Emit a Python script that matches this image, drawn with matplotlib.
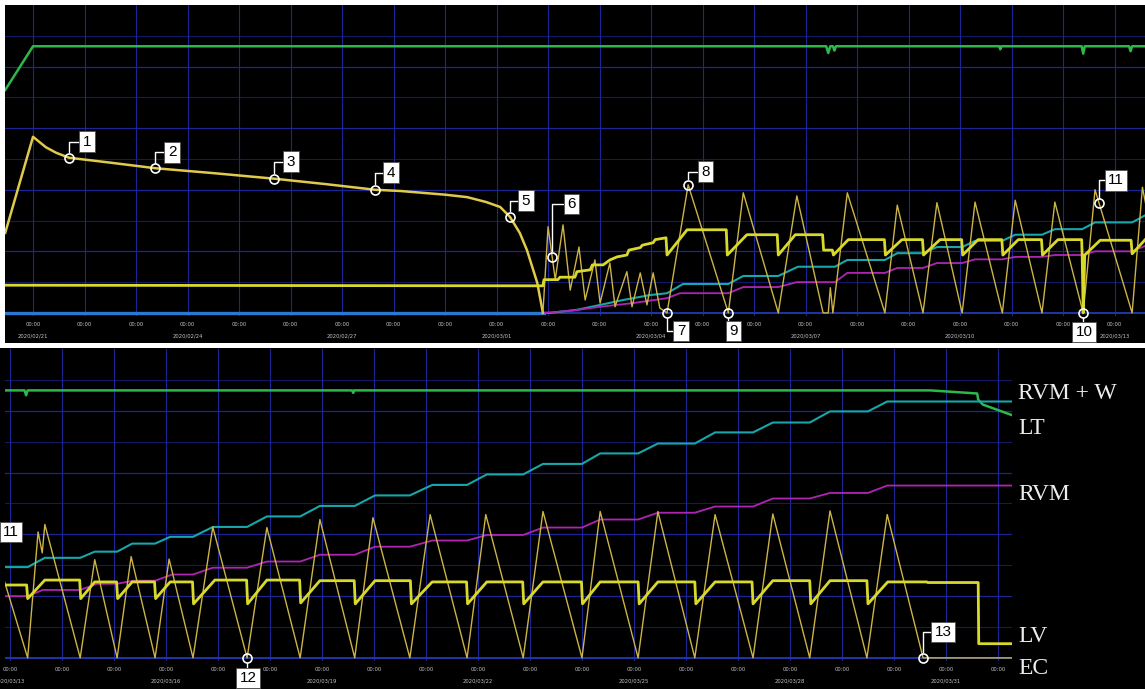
import numpy as np
import matplotlib
matplotlib.use("Agg")
import matplotlib.pyplot as plt
from matplotlib.patches import Rectangle

# Time axis: days since 2020/02/21 00:00; values in chart units (0-5)
green_days = [-0.54, 0.0, 15.40, 15.44, 15.48, 15.53, 15.56, 15.59, 18.76, 18.78, 18.80,
              20.36, 20.39, 20.42, 21.28, 21.31, 21.34, 27.58, 27.60, 27.62, 38.70,
              39.60, 39.62, 39.71, 40.30]
green_vals = [3.62, 4.33, 4.33, 4.22, 4.33, 4.33, 4.26, 4.33, 4.33, 4.28, 4.33,
              4.33, 4.21, 4.33, 4.33, 4.25, 4.33, 4.33, 4.29, 4.33, 4.33,
              4.28, 4.18, 4.10, 3.92]

ec_days = [-0.54, 0.0, 0.25, 0.45, 0.70, 1.5, 2.37, 3.5, 4.68, 5.7, 6.64, 7.13, 8.0, 8.43,
           8.8, 9.07, 9.26, 9.45, 9.59, 9.79, 9.90,
           10.0, 10.14, 10.29, 10.43, 10.60, 10.72, 10.91, 11.01, 11.20, 11.30, 11.53, 11.63,
           11.79, 11.92, 12.04, 12.17, 12.31,
           12.72, 13.50, 13.79, 14.47, 14.83, 15.34, 15.44, 15.48, 15.53, 15.81, 16.54, 16.78,
           17.28, 17.55, 18.04, 18.29, 18.82, 19.07, 19.59, 19.84, 20.39, 20.62, 21.34,
           21.54, 21.62, 21.67, 22.35, 22.63, 23.06, 23.33, 23.79, 24.06, 24.52, 24.90, 25.56,
           25.94, 26.58, 26.96, 27.63, 27.98, 28.69, 29.08, 29.79, 30.15, 30.87, 31.25, 32.0,
           32.35, 33.08, 33.46, 34.17, 34.56, 35.29, 35.67, 36.38, 36.77, 37.48, 37.87, 38.56,
           40.3]
ec_vals = [1.30, 2.86, 2.69, 2.60, 2.52, 2.44, 2.35, 2.27, 2.18, 2.09, 2.00, 1.98, 1.92, 1.88,
           1.80, 1.72, 1.56, 1.30, 1.02, 0.49, 0.0,
           1.40, 0.54, 1.43, 0.37, 1.07, 0.21, 0.86, 0.16, 0.81, 0.10, 0.67, 0.10,
           0.65, 0.13, 0.65, 0.08, 0.0,
           2.08, 0.0, 1.95, 0.0, 1.90, 0.0, 0.0, 0.41, 0.0, 1.95, 0.0, 1.75,
           0.0, 1.79, 0.0, 1.80, 0.0, 1.83, 0.0, 1.80, 0.0, 2.00, 0.0,
           2.04, 1.70, 2.16, 0.0, 1.59, 0.0, 1.64, 0.0, 1.60, 0.0, 2.12, 0.0,
           2.11, 0.0, 2.24, 0.0, 2.27, 0.0, 2.32, 0.0, 2.32, 0.0, 2.37, 0.0,
           2.37, 0.0, 2.37, 0.0, 2.32, 0.0, 2.33, 0.0, 2.38, 0.0, 2.32, 0.0,
           0.0]

lv_days = [-0.54, 9.90, 9.92, 10.19, 10.23, 10.52, 10.56, 10.82, 10.86, 11.07, 11.20, 11.34,
           11.53, 11.57, 11.79, 11.83, 12.04, 12.08, 12.29, 12.31, 12.70, 13.46, 13.48, 13.86,
           14.45, 14.47, 14.80, 15.33, 15.35, 15.52, 15.54, 15.83, 16.53, 16.55, 16.87, 17.27,
           17.29, 17.61, 18.03, 18.05, 18.35, 18.81, 18.83, 19.13, 19.58, 19.60, 19.90, 20.36,
           20.37, 20.39, 20.42, 20.72, 21.32, 21.34, 21.67, 22.34, 22.36, 22.63, 23.05, 23.07,
           23.35, 23.78, 23.80, 24.08, 24.51, 24.53, 24.94, 25.55, 25.57, 25.94, 26.57, 26.59,
           26.96, 27.62, 27.64, 28.02, 28.70, 28.72, 29.12, 29.78, 29.80, 30.17, 30.86, 30.88,
           31.25, 31.99, 32.01, 32.35, 33.08, 33.10, 33.46, 34.17, 34.19, 34.56, 35.27, 35.29,
           35.67, 36.38, 36.40, 36.77, 37.48, 37.50, 37.88, 38.63, 38.65, 39.62, 39.63, 40.3]
lv_vals = [0.45, 0.44, 0.54, 0.54, 0.58, 0.58, 0.67, 0.70, 0.78, 0.78, 0.86, 0.91,
           0.94, 1.02, 1.06, 1.10, 1.14, 1.19, 1.22, 0.94, 1.35, 1.35, 0.94, 1.27,
           1.27, 0.94, 1.27, 1.27, 1.02, 1.02, 0.94, 1.19, 1.19, 0.94, 1.19, 1.19,
           0.94, 1.19, 1.19, 0.94, 1.19, 1.19, 0.94, 1.19, 1.19, 0.94, 1.19, 1.19,
           0.94, 0.0, 0.94, 1.18, 1.18, 0.96, 1.26, 1.26, 0.96, 1.23, 1.23, 0.96,
           1.23, 1.23, 0.96, 1.23, 1.23, 0.875, 1.26, 1.26, 0.875, 1.26, 1.26, 0.89,
           1.25, 1.25, 0.875, 1.25, 1.25, 0.875, 1.23, 1.23, 0.875, 1.23, 1.23, 0.875,
           1.23, 1.23, 0.875, 1.23, 1.23, 0.875, 1.23, 1.23, 0.875, 1.23, 1.23, 0.875,
           1.25, 1.25, 0.875, 1.25, 1.25, 0.875, 1.23, 1.23, 1.22, 1.22, 0.23, 0.23]

lt_days = [9.90, 10.04, 10.56, 11.01, 11.46, 11.98, 12.31, 12.62, 13.50, 13.79, 14.47, 14.85,
           15.57, 15.81, 16.54, 16.78, 17.28, 17.55, 18.04, 18.29, 18.82, 19.07, 19.59, 19.84,
           20.37, 20.62, 21.34, 21.67, 22.35, 22.63, 23.06, 23.35, 23.79, 24.08, 24.52, 24.90,
           25.56, 25.94, 26.58, 26.96, 27.63, 28.02, 28.69, 29.12, 29.79, 30.17, 30.87, 31.25,
           32.0, 32.35, 33.08, 33.46, 34.17, 34.56, 35.29, 35.67, 36.38, 36.77, 37.50, 37.87,
           40.3]
lt_vals = [0.0, 0.0, 0.05, 0.13, 0.21, 0.29, 0.32, 0.47, 0.47, 0.60, 0.60, 0.75,
           0.75, 0.86, 0.86, 0.97, 0.97, 1.07, 1.07, 1.17, 1.17, 1.27, 1.27, 1.36,
           1.36, 1.47, 1.47, 1.62, 1.62, 1.72, 1.72, 1.85, 1.85, 1.96, 1.96, 2.12,
           2.12, 2.29, 2.29, 2.46, 2.46, 2.63, 2.63, 2.80, 2.80, 2.97, 2.97, 3.14,
           3.14, 3.31, 3.31, 3.47, 3.47, 3.65, 3.65, 3.81, 3.81, 3.99, 3.99, 4.15,
           4.15]

rvm_days = [9.90, 10.5, 11.01, 11.65, 12.31, 12.56, 13.50, 13.79, 14.47, 14.83, 15.57, 15.81,
            16.54, 16.78, 17.28, 17.55, 18.04, 18.29, 18.82, 19.07, 19.59, 19.84, 20.37, 20.62,
            21.34, 21.63, 22.35, 22.67, 23.06, 23.37, 23.79, 24.12, 24.52, 24.90, 25.56, 25.94,
            26.58, 26.96, 27.63, 28.02, 28.69, 29.12, 29.79, 30.17, 30.87, 31.25, 32.0, 32.35,
            33.08, 33.46, 34.17, 34.56, 35.29, 35.67, 36.38, 36.77, 37.50, 37.87, 40.3]
rvm_vals = [0.0, 0.04, 0.10, 0.16, 0.24, 0.32, 0.32, 0.42, 0.42, 0.50, 0.50, 0.65,
            0.65, 0.73, 0.73, 0.81, 0.81, 0.87, 0.87, 0.91, 0.91, 0.94, 0.94, 1.00,
            1.00, 1.10, 1.10, 1.20, 1.20, 1.25, 1.25, 1.35, 1.35, 1.46, 1.46, 1.56,
            1.56, 1.67, 1.67, 1.80, 1.80, 1.90, 1.90, 1.99, 1.99, 2.11, 2.11, 2.24,
            2.24, 2.35, 2.35, 2.45, 2.45, 2.58, 2.58, 2.67, 2.67, 2.79, 2.79]

# flat zero line before the LT / RVM traces start
zero_days = [-0.6, 9.92]
zero_vals = [0.0, 0.0]

# numbered event markers on the EC trace: label, day, box offset (px)
note_labels = ["1", "2", "3", "4", "5", "6", "7", "8", "9", "10", "11", "12", "13"]
note_days = [0.70, 2.37, 4.68, 6.64, 9.26, 10.08, 12.31, 12.72, 13.50, 20.39, 20.70, 25.56, 38.56]
note_dx = [18, 17, 17, 16, 16, 19, 14, 17, 5, 1, 17, 1, 20]
note_dy = [16, 16, 17, 17, 16, 53, -18, 13, -18, -19, 23, -20, 26]
note_panel = ["top"] * 11 + ["bottom"] * 2

top_dates = ["2020/02/21", "2020/02/24", "2020/02/27", "2020/03/01",
             "2020/03/04", "2020/03/07", "2020/03/10", "2020/03/13"]
bottom_dates = ["2020/03/13", "2020/03/16", "2020/03/19", "2020/03/22",
                "2020/03/25", "2020/03/28", "2020/03/31"]

series_names = ["RVM + W", "LT", "RVM", "LV", "EC"]

# ---------------------------------------------------------------------------
W, H = 1145, 689
fig = plt.figure(figsize=(W / 100, H / 100), dpi=100, facecolor="white")


def frac_box(left, top, right, bottom):
    return [left / W, 1 - bottom / H, (right - left) / W, (bottom - top) / H]


# black panel backgrounds
for l, t, r, b in [(5, 5, 1145, 343), (0, 348, 1145, 689)]:
    x0, y0, w, h = frac_box(l, t, r, b)
    fig.add_artist(Rectangle((x0, y0), w, h, transform=fig.transFigure,
                             facecolor="black", edgecolor="none", zorder=-5))

ax_top = fig.add_axes(frac_box(5, 5, 1145, 316))
ax_bot = fig.add_axes(frac_box(5, 349, 1012, 661))
ax_top.set_xlim(-0.544, 21.59)
ax_bot.set_xlim(20.904, 40.27)

C_GREEN = "#2cb84a"
C_LT = "#17a6aa"
C_RVM = "#b024b4"
C_LV = "#d9d92c"
C_EC = "#cdb446"
C_GRID_MAJOR = "#1c2596"
C_GRID_MINOR = "#121a68"

ec_d = np.array(ec_days)
ec_v = np.array(ec_vals)
slow = ec_d <= 9.9
fast = ec_d >= 9.9

for ax, ticks, dates in [(ax_top, np.arange(0, 22), top_dates),
                         (ax_bot, np.arange(21, 41), bottom_dates)]:
    ax.set_facecolor("black")
    ax.set_ylim(-0.05, 5.0)
    for s in ax.spines.values():
        s.set_visible(False)
    ax.set_yticks([])
    labels = []
    for i, _ in enumerate(ticks):
        if i % 3 == 0 and i // 3 < len(dates):
            labels.append("00:00\n" + dates[i // 3])
        else:
            labels.append("00:00")
    ax.set_xticks(ticks)
    ax.set_xticklabels(labels, linespacing=2.7, fontsize=3.8, color="#c4c4c4")
    ax.tick_params(axis="x", length=0, pad=4)

    # grid: integer levels brighter, half levels dimmer
    for lvl in np.arange(0.5, 5.0, 0.5):
        major = float(lvl).is_integer()
        ax.axhline(lvl, color=C_GRID_MAJOR if major else C_GRID_MINOR,
                   lw=0.9 if major else 0.8, zorder=0)
    for t in ticks:
        ax.axvline(t, color=C_GRID_MAJOR, lw=0.8, zorder=0)
    ax.axhline(0, color="#2036a8", lw=1.4, zorder=1)

    ax.plot(zero_days, zero_vals, color="#2a78d0", lw=2.4, zorder=2)
    ax.plot(green_days, green_vals, color=C_GREEN, lw=1.8, zorder=3)
    ax.plot(lt_days, lt_vals, color=C_LT, lw=1.5, zorder=3)
    ax.plot(rvm_days, rvm_vals, color=C_RVM, lw=1.3, zorder=3)
    ax.plot(ec_d[slow], ec_v[slow], color="#e0ca4c", lw=1.8, zorder=4)
    ax.plot(ec_d[fast], ec_v[fast], color=C_EC, lw=1.0, zorder=4)
    ax.plot(lv_days, lv_vals, color=C_LV, lw=2.0, zorder=5)

# numbered markers with boxed labels
for lab, day, dx, dy, panel in zip(note_labels, note_days, note_dx, note_dy, note_panel):
    ax = ax_top if panel == "top" else ax_bot
    yv = np.interp(day, ec_d, ec_v)
    ax.plot(day, yv, "o", mfc="none", mec="white", ms=6.5, mew=1.2, zorder=7, clip_on=False)
    ax.annotate(lab, xy=(day, yv), xytext=(dx, dy), textcoords="offset pixels",
                ha="center", va="center", fontsize=11, family="Liberation Sans",
                color="black", annotation_clip=False, zorder=8,
                bbox=dict(boxstyle="square,pad=0.22", fc="white", ec="#505050", lw=0.6),
                arrowprops=dict(arrowstyle="-", color="white", lw=1.0, shrinkA=0, shrinkB=4,
                                connectionstyle="angle,angleA=0,angleB=90,rad=0"))

# continuation box at the left edge of the lower panel
fig.text(11 / W, 1 - 532 / H, "11", ha="center", va="center", fontsize=11,
         family="Liberation Sans", color="black",
         bbox=dict(boxstyle="square,pad=0.22", fc="white", ec="#505050", lw=0.6))

# series names on the right of the lower panel
name_y = [394, 429, 495, 636, 668]
for name, ypx in zip(series_names, name_y):
    fig.text(1018 / W, 1 - ypx / H, name, ha="left", va="center", fontsize=17,
             family="Liberation Serif", color="#ececec")

fig.savefig("out.png", dpi=100, facecolor=fig.get_facecolor())
